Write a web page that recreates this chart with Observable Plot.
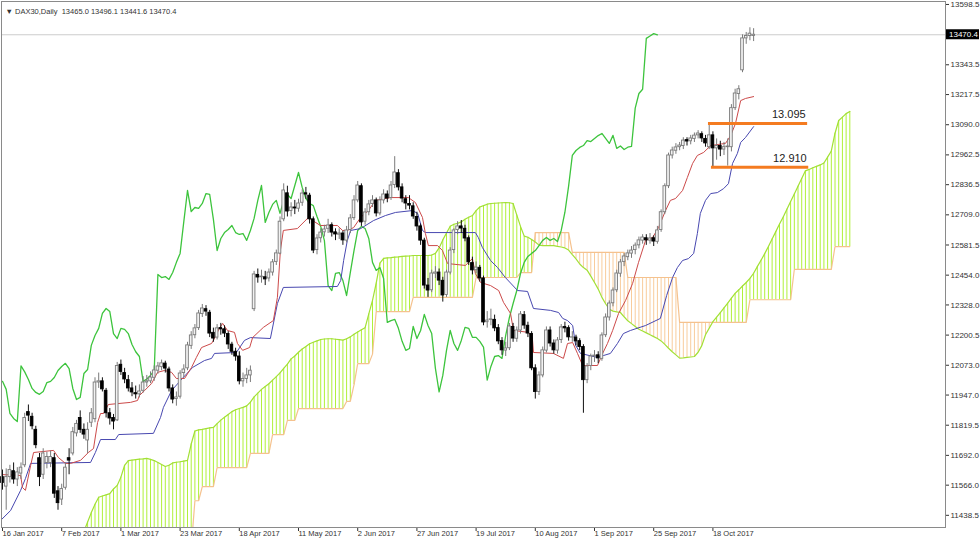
<!DOCTYPE html>
<html><head><meta charset="utf-8">
<script src="https://cdn.jsdelivr.net/npm/d3@7"></script>
<script src="https://cdn.jsdelivr.net/npm/@observablehq/plot@0.6"></script>
<style>html,body{margin:0;padding:0;background:#fff}svg{display:block}</style>
</head><body><div id="chart"></div>
<script>
// ---- axis labels ----
const tickBars = [0,16,32,48,64,80,96,112,128,144,160,176,192];
const tickLabels = ["16 Jan 2017","7 Feb 2017","1 Mar 2017","23 Mar 2017","18 Apr 2017","11 May 2017","2 Jun 2017","27 Jun 2017","19 Jul 2017","10 Aug 2017","1 Sep 2017","25 Sep 2017","18 Oct 2017"];
const yTicks = [13598.5,13343.5,13217.5,13090.0,12962.5,12836.5,12709.0,12581.5,12454.0,12328.0,12200.5,12073.0,11947.0,11819.5,11692.0,11566.0,11438.5];
const titleText = "\u25BC DAX30,Daily  13465.0 13496.1 13441.6 13470.4";
const lastPrice = 13470.4;

// ---- daily candles (bar index = trading day from 16 Jan 2017) ----
const open = [11600,11560,11600,11625,11590,11615,11650,11875,11855,11800,11680,11610,11660,11660,11680,11540,11505,11555,11680,11700,11785,11850,11800,11755,11830,11845,
12000,12005,11965,11870,11850,11840,12075,12040,12010,11975,11955,11950,11965,12000,12005,12020,12050,12065,12080,12055,11975,11930,11940,12040,
12060,12155,12200,12230,12290,12310,12295,12210,12190,12230,12225,12205,12160,12130,12110,12005,12015,12030,12310,12455,
12445,12445,12440,12465,12510,12545,12690,12800,12725,12740,12735,12760,12800,12790,12690,12560,12610,12635,12650,12665,
12635,12625,12630,12600,12645,12695,12770,12830,12680,12720,12755,12770,12715,12770,12795,12780,12835,12885,12825,12775,
12755,12745,12700,12660,12600,12410,12390,12460,12465,12430,12370,12465,12560,12645,12660,12650,12610,12505,12475,12485,
12440,12255,12265,12265,12230,12175,12135,12145,12235,12185,12220,12285,12240,12205,12060,11960,12030,12135,12220,12165,
12135,12180,12235,12230,12190,12190,12175,12150,12010,12070,12110,12115,12100,12200,12275,12335,12390,12460,12510,12530,
12545,12560,12580,12600,12610,12600,12610,12595,12645,12720,12830,12960,12980,12995,13000,13025,13020,13030,13045,13050,
13030,12995,13045,12990,13000,12985,12995,12995,13160,13220,13320,13455,13465,13465.0];
const high = [11630,11635,11650,11660,11640,11660,11870,11905,11870,11815,11700,11720,11705,11710,11700,11560,11570,11660,11720,11810,11840,11880,11825,11830,11890,12020,
12040,12020,11975,11890,11865,12085,12095,12060,12030,12000,11985,11990,12025,12030,12045,12070,12085,12095,12090,12065,11990,11960,12050,12075,
12170,12215,12245,12305,12330,12325,12305,12230,12245,12250,12240,12215,12170,12145,12130,12040,12060,12070,12470,12480,
12475,12470,12480,12520,12560,12700,12840,12830,12760,12770,12775,12815,12825,12800,12700,12625,12650,12665,12690,12675,
12650,12650,12640,12660,12710,12790,12850,12840,12735,12770,12790,12780,12785,12815,12810,12850,12955,12900,12840,12790,
12790,12760,12720,12670,12610,12440,12475,12490,12480,12445,12475,12570,12650,12680,12685,12665,12620,12530,12510,12495,
12450,12300,12310,12285,12245,12190,12170,12250,12250,12235,12300,12300,12255,12215,12075,12045,12150,12235,12235,12180,
12190,12245,12255,12240,12215,12200,12185,12160,12080,12120,12135,12130,12210,12290,12345,12400,12475,12520,12545,12560,
12575,12590,12615,12625,12625,12630,12620,12660,12730,12840,12970,12995,13010,13015,13035,13035,13045,13055,13065,13060,
13045,13095,13060,13030,13020,13015,13030,13175,13240,13255,13470,13480,13500,13496.1];
const low = [11545,11460,11575,11570,11560,11590,11640,11835,11800,11720,11560,11590,11635,11640,11510,11460,11480,11545,11610,11690,11770,11785,11760,11700,11810,11830,
11975,11960,11850,11820,11800,11835,12030,11995,11960,11940,11930,11935,11955,11980,11995,12005,12035,12050,12040,11960,11910,11900,11930,12020,
12050,12140,12185,12220,12275,12280,12190,12170,12180,12200,12190,12140,12115,12090,11990,11980,11995,12000,12300,12420,
12420,12410,12425,12450,12495,12540,12680,12700,12700,12710,12720,12745,12775,12670,12545,12540,12590,12615,12630,12615,
12600,12605,12580,12590,12630,12685,12760,12660,12665,12705,12740,12700,12705,12755,12760,12770,12820,12810,12760,12730,
12730,12690,12640,12580,12395,12360,12380,12440,12410,12340,12360,12455,12545,12625,12630,12595,12495,12455,12460,12425,
12240,12230,12240,12215,12160,12115,12110,12135,12170,12170,12205,12225,12190,12050,11930,11945,12020,12125,12150,12120,
12120,12165,12210,12175,12170,12155,12135,11870,11995,12050,12085,12080,12090,12190,12260,12320,12380,12445,12490,12515,
12525,12540,12565,12585,12580,12585,12575,12585,12635,12710,12820,12945,12965,12980,12985,13000,13005,13015,13030,13015,
12995,12985,12910,12940,12955,12960,12915,12975,13150,13195,13310,13430,13445,13441.6];
const close = [11575,11600,11630,11590,11620,11640,11850,11860,11815,11735,11600,11700,11685,11685,11530,11490,11550,11640,11670,11790,11825,11800,11780,11800,11870,12000,
12005,11971,11870,11848,11835,12070,12045,12013,11975,11958,11950,11962,12000,12005,12021,12051,12068,12081,12059,11975,11928,11937,12038,12055,
12157,12199,12229,12292,12313,12300,12207,12186,12229,12225,12207,12161,12130,12110,12005,12015,12030,12050,12457,12444,
12448,12436,12465,12508,12546,12680,12812,12723,12740,12736,12757,12799,12795,12690,12558,12609,12634,12647,12664,12634,
12626,12630,12601,12643,12694,12770,12833,12677,12719,12753,12770,12715,12770,12795,12778,12833,12888,12825,12778,12757,
12748,12702,12660,12600,12410,12389,12461,12465,12431,12368,12465,12558,12643,12660,12651,12609,12508,12474,12486,12440,
12254,12262,12267,12229,12174,12136,12144,12237,12186,12220,12288,12241,12207,12060,11960,12030,12136,12220,12165,12136,
12178,12233,12229,12191,12191,12174,12150,12010,12068,12110,12114,12102,12199,12275,12334,12389,12461,12508,12533,12546,
12558,12579,12601,12613,12601,12609,12596,12643,12720,12830,12960,12981,12994,13002,13023,13019,13032,13044,13053,13032,
13011,13045,12990,13000,12985,12995,12998,13160,13222,13240,13455,13465,13475,13470.4];

// ---- Tenkan-sen (red): bar, value ----
const tenkanBar = [-0.5,4.9,5.4,6.2,7.6,8.4,13.8,15.1,17.0,18.4,21.1,23.2,24.6,25.7,26.5,27.3,28.6,34.6,36.5,37.0,38.4,40.3,41.9,43.8,45.7,47.0,49.2,51.1,52.4,53.8,56.5,57.3,58.6,59.5,60.8,62.7,63.5,64.9,66.8,67.6,70.5,73.2,74.3,75.1,75.9,79.7,82.7,83.8,85.9,90.5,91.9,93.2,94.9,96.8,98.9,100.8,104.9,109.7,111.6,113.5,114.3,115.1,117.6,118.9,120.3,125.1,127.0,127.8,129.2,131.9,134.1,135.4,137.3,138.1,142.2,143.2,143.5,148.9,151.6,152.7,154.1,155.4,156.8,160.8,162.2,163.5,164.9,166.5,168.4,170.3,171.9,173.8,175.7,177.3,179.2,180.5,181.9,183.8,185.1,186.5,187.8,189.5,191.4,195.4,196.8,198.1,199.5,200.8,203];
const tenkanVal = [11611,11607,11556,11544,11649,11704,11713,11683,11658,11658,11671,11704,11721,11831,11869,11869,11907,11916,11924,11945,11966,11996,12043,12051,12043,12017,12017,12064,12106,12148,12165,12186,12229,12250,12220,12212,12165,12136,12148,12190,12233,12262,12360,12558,12643,12651,12698,12685,12664,12664,12643,12643,12655,12698,12727,12770,12782,12782,12761,12698,12630,12579,12579,12558,12503,12495,12524,12461,12423,12410,12389,12339,12292,12220,12212,12190,12127,12123,12102,12165,12169,12123,12072,12072,12123,12165,12220,12292,12347,12419,12508,12601,12613,12655,12727,12770,12778,12812,12867,12926,12960,12973,13002,13011,13044,13095,13192,13201,13209];

// ---- Kijun-sen (blue) ----
const kijunBar = [-0.5,2.2,4.9,6.2,7.6,23.8,25.1,26.5,30.5,31.4,40.8,42.7,43.5,45.7,48.6,51.4,54.6,56.5,57.3,63.2,65.4,67.0,72.4,74.3,75.9,90.5,91.4,92.2,93.2,94.1,96.8,100.3,103.5,106.2,110.8,112.2,113.5,114.3,127.8,128.6,129.7,131.9,133.8,135.9,139.2,141.9,143.5,148.1,150.3,151.4,152.7,154.1,154.9,156.2,160.8,162.4,164.3,166.2,167.8,169.7,173.8,177.8,179.5,181.1,182.4,183.8,185.4,186.8,187.8,188.6,190.0,191.4,193.2,194.9,196.2,197.3,198.6,199.5,200.8,203];
const kijunVal = [11417,11459,11544,11594,11658,11662,11704,11759,11759,11780,11785,11852,11895,11966,12017,12064,12093,12102,12123,12127,12178,12190,12186,12334,12402,12406,12431,12516,12601,12643,12651,12685,12706,12719,12727,12715,12643,12634,12634,12613,12571,12516,12486,12444,12389,12385,12313,12305,12296,12271,12262,12241,12157,12123,12106,12114,12123,12165,12207,12220,12241,12271,12368,12444,12486,12516,12524,12546,12630,12715,12770,12799,12803,12820,12841,12926,12968,13015,13036,13082];

// ---- Senkou spans, one value per bar from bar 21 to bar 229 ----
const senkouStart = 21;
const senkouA = [11330,11370,11410,11450,11485,11515,11520,11525,11530,11550,
11565,11600,11650,11670,11672,11674,11676,11677,11679,11675,
11670,11662,11653,11645,11650,11660,11663,11665,11668,11671,
11740,11795,11800,11802,11805,11808,11810,11826,11841,11853,
11865,11877,11885,11890,11895,11901,11917,11939,11955,11971,
11983,11995,12010,12025,12041,12060,12078,12100,12112,12128,
12142,12152,12164,12170,12176,12182,12184,12185,12185,12183,
12181,12179,12185,12193,12204,12214,12223,12232,12290,12347,
12420,12505,12525,12527,12528,12530,12531,12533,12534,12535,
12537,12537,12537,12537,12537,12539,12546,12569,12603,12632,
12661,12669,12673,12679,12690,12699,12706,12727,12742,12748,
12754,12757,12758,12759,12760,12761,12760,12757,12708,12660,
12619,12614,12605,12594,12581,12579,12579,12579,12579,12576,
12573,12569,12560,12541,12523,12501,12486,12475,12450,12423,
12395,12360,12333,12310,12302,12299,12296,12278,12261,12249,
12237,12225,12218,12210,12202,12194,12186,12176,12161,12145,
12130,12117,12103,12104,12106,12108,12110,12128,12156,12202,
12230,12257,12276,12296,12316,12336,12357,12377,12392,12408,
12423,12440,12462,12490,12517,12545,12575,12607,12638,12670,
12700,12733,12765,12797,12830,12863,12895,12901,12908,12914,
12920,12928,12953,12979,13054,13108,13122,13137,13146];
const senkouB = [11300,11300,11300,11300,11300,11300,11300,11300,11300,11300,
11300,11300,11300,11300,11300,11300,11300,11300,11300,11300,
11300,11300,11300,11300,11300,11300,11300,11300,11300,11300,
11300,11500,11500,11560,11560,11560,11560,11640,11640,11640,
11640,11640,11640,11640,11640,11640,11700,11700,11700,11700,
11700,11700,11780,11780,11780,11780,11840,11840,11840,11890,
11890,11890,11890,11890,11890,11890,11890,11890,11890,11890,
11890,11890,11920,11920,11990,12080,12080,12080,12080,12120,
12300,12300,12300,12300,12300,12300,12300,12300,12300,12300,
12360,12360,12360,12360,12360,12360,12360,12360,12360,12360,
12360,12360,12360,12360,12360,12360,12360,12444,12444,12444,
12444,12444,12444,12444,12444,12444,12444,12444,12444,12465,
12465,12465,12465,12634,12634,12634,12634,12634,12634,12634,
12634,12634,12634,12550,12550,12550,12550,12550,12550,12550,
12550,12550,12550,12550,12550,12550,12550,12550,12444,12444,
12444,12444,12444,12444,12444,12444,12444,12444,12444,12444,
12444,12444,12254,12254,12254,12254,12254,12254,12254,12254,
12254,12254,12254,12254,12254,12254,12254,12254,12254,12254,
12254,12350,12350,12350,12350,12350,12350,12350,12350,12350,
12350,12350,12350,12478,12478,12478,12478,12478,12478,12478,
12478,12478,12478,12478,12575,12575,12575,12575,12575];

// ---- marked levels ----
const levelValues = [13095, 12910];
const levelLabels = ["13.095", "12.910"];
const levelStart = [190.8, 191.6];
const levelEnd = [217.6, 217.9];

// ---- build tables ----
const bars = open.map((o, i) => ({i, o, h: high[i], l: low[i], c: close[i]}));
const bull = bars.filter(d => d.c >= d.o);
const bear = bars.filter(d => d.c < d.o);
const chikou = close.map((c, i) => ({i: i - 26, c})).filter(d => d.i >= 0);
const cloud = senkouA.map((a, k) => ({i: senkouStart + k, a, b: senkouB[k]}));
const tenkan = tenkanBar.map((b, k) => ({i: b, v: tenkanVal[k]}));
const kijun = kijunBar.map((b, k) => ({i: b, v: kijunVal[k]}));
const levels = levelValues.map((v, k) => ({v, label: levelLabels[k], s: levelStart[k], e: levelEnd[k]}));

const W = 0.36;
const chart = Plot.plot({
  width: 980,
  height: 542,
  marginLeft: 1,
  marginRight: 35,
  marginTop: 1,
  marginBottom: 15,
  style: {fontFamily: "'Liberation Sans', Arial, sans-serif", fontSize: "8px", color: "#333", background: "#fff"},
  x: {domain: [-0.27, 254.86], ticks: tickBars, tickFormat: () => "", tickSize: 4},
  y: {domain: [11387, 13611], axis: "right", ticks: yTicks, tickFormat: d3.format(".1f"), tickSize: 3, tickPadding: 2},
  marks: [
    Plot.ruleX(cloud.filter(d => d.a >= d.b), {x: "i", y1: "a", y2: "b", stroke: "#b0f03a", strokeWidth: 1, clip: true}),
    Plot.ruleX(cloud.filter(d => d.a < d.b), {x: "i", y1: "a", y2: "b", stroke: "#f8cc9c", strokeWidth: 1, clip: true}),
    Plot.line(cloud, {x: "i", y: "b", stroke: "#f5c28e", strokeWidth: 1.2, clip: true}),
    Plot.line(cloud, {x: "i", y: "a", stroke: "#a2e035", strokeWidth: 1.2, clip: true}),
    Plot.ruleY([lastPrice], {stroke: "#cccccc", strokeWidth: 1}),
    Plot.line(chikou, {x: "i", y: "c", stroke: "#3dc43d", strokeWidth: 1.3, clip: true}),
    Plot.line(kijun, {x: "i", y: "v", stroke: "#4848b0", strokeWidth: 1, clip: true}),
    Plot.line(tenkan, {x: "i", y: "v", stroke: "#cc4a4a", strokeWidth: 1, clip: true}),
    Plot.ruleX(bull, {x: "i", y1: "l", y2: "h", stroke: "#7a7a7a", strokeWidth: 1}),
    Plot.ruleX(bear, {x: "i", y1: "l", y2: "h", stroke: "#111", strokeWidth: 1}),
    Plot.rect(bull, {x1: d => d.i - W, x2: d => d.i + W, y1: "o", y2: "c", fill: "#f2f2f2", stroke: "#7a7a7a", strokeWidth: 0.9}),
    Plot.rect(bear, {x1: d => d.i - W, x2: d => d.i + W, y1: "o", y2: "c", fill: "#000", stroke: "#000", strokeWidth: 0.9}),
    Plot.ruleY(levels, {y: "v", x1: "s", x2: "e", stroke: "#f47b20", strokeWidth: 3}),
    Plot.text(levels, {x: "e", y: "v", text: "label", textAnchor: "end", dx: -2, dy: -9, fontSize: 11, fill: "#222"}),
    Plot.text(tickBars, {x: d => d, text: (d, i) => tickLabels[i], frameAnchor: "bottom", dy: 8, textAnchor: "start", fontSize: 7.5, fill: "#333"}),
    Plot.text([titleText], {text: d => d, frameAnchor: "top-left", dx: 4, dy: 7, fontSize: 7.5, fill: "#333"}),
    Plot.frame({stroke: "#8a8a8a"})
  ]
});
document.getElementById("chart").appendChild(chart);

// price box on the right axis
const svg = d3.select(chart);
const yPx = chart.scale("y").apply(lastPrice);
const xr = chart.scale("x").range[1];
svg.append("rect").attr("x", xr + 1).attr("y", yPx - 5).attr("width", 33).attr("height", 10).attr("fill", "#000");
svg.append("text").attr("x", xr + 4).attr("y", yPx + 3).attr("fill", "#fff")
  .attr("text-anchor", "start")
  .attr("font-size", 8).attr("font-family", "'Liberation Sans', Arial, sans-serif").text(lastPrice.toFixed(1));
</script>
</body></html>
